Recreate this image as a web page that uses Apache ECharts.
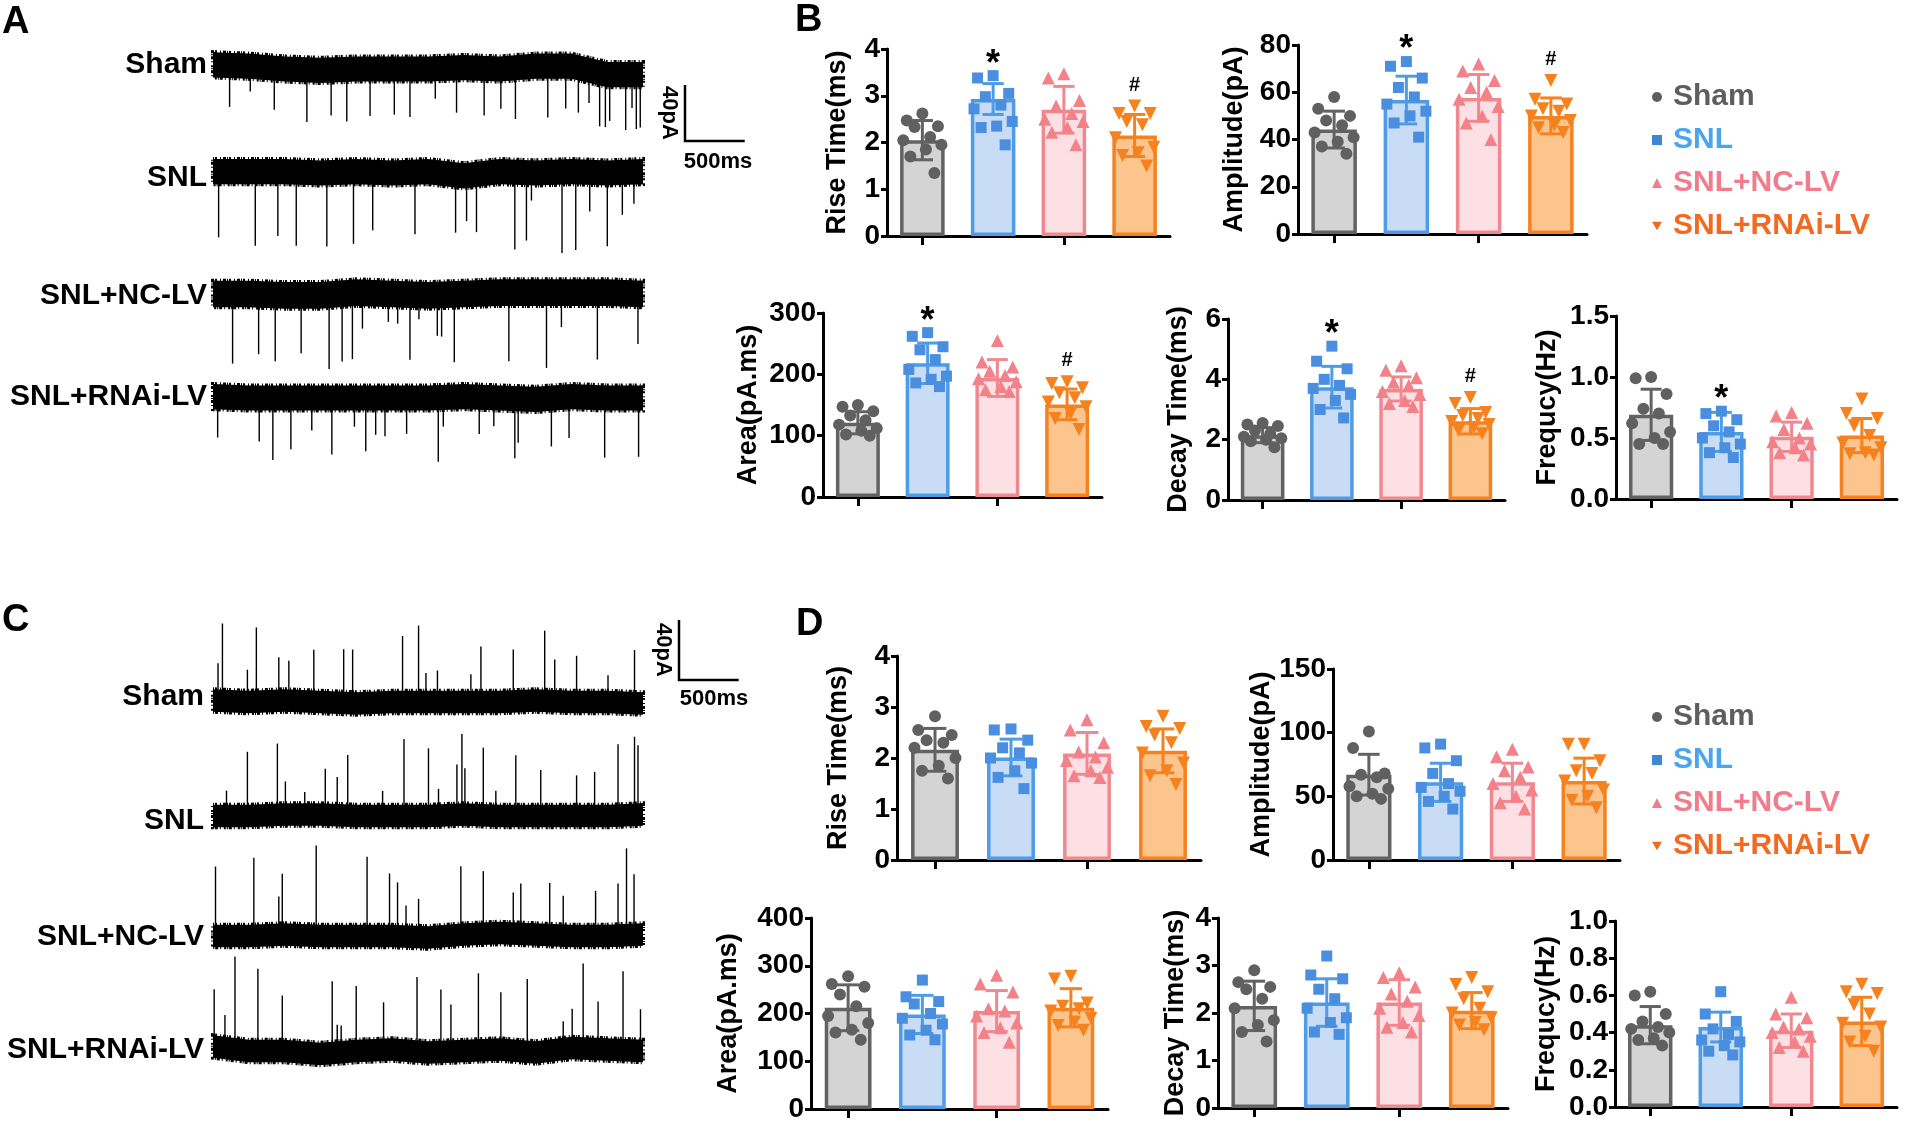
<!DOCTYPE html>
<html>
<head>
<meta charset="utf-8">
<title>sEPSC / sIPSC recordings</title>
<script src="https://cdn.jsdelivr.net/npm/echarts@6/dist/echarts.min.js"></script>
<style>
html, body { margin: 0; padding: 0; background: #fff; }
#main { width: 1905px; height: 1125px; }
</style>
</head>
<body>
<div id="main"></div>
<script>
// groups
var groups = ['Sham', 'SNL', 'SNL+NC-LV', 'SNL+RNAi-LV'];

// ---- panel B (row 1 and row 2) ----
var riseB_mean = [2.05, 2.93, 2.70, 2.15];
var riseB_sd = [0.42, 0.33, 0.50, 0.45];
var riseB_pts = [
    [2.62, 2.47, 2.35, 2.33, 2.12, 2.05, 1.95, 1.85, 1.70, 1.35],
    [3.43, 3.38, 3.05, 2.98, 2.80, 2.72, 2.45, 2.35, 2.32, 1.95],
    [3.47, 3.38, 2.90, 2.78, 2.62, 2.50, 2.45, 2.32, 2.22, 1.95],
    [2.78, 2.62, 2.62, 2.45, 2.38, 2.10, 1.90, 1.78, 1.72, 1.50]
];
var ampB_mean = [44.2, 56.7, 57.6, 50.0];
var ampB_sd = [7.8, 10.1, 9.9, 7.6];
var ampB_pts = [
    [58, 53, 50, 48, 46, 43, 41, 39, 37, 34],
    [73, 71, 66, 62, 58, 55, 52, 50, 47, 41],
    [72, 69, 65, 62, 60, 57, 54, 50, 47, 40],
    [65, 57, 55, 53, 52, 50, 48, 46, 45, 43]
];
var areaB_mean = [121, 218, 194, 151];
var areaB_sd = [18, 33, 30, 25];
var areaB_pts = [
    [150, 147, 140, 133, 125, 118, 112, 108, 102, 100],
    [268, 262, 245, 240, 224, 208, 197, 192, 186, 180],
    [255, 220, 212, 205, 198, 193, 188, 180, 175, 172],
    [188, 185, 178, 170, 162, 155, 147, 136, 128, 110]
];
var decayB_mean = [2.15, 3.74, 3.68, 2.61];
var decayB_sd = [0.25, 0.69, 0.40, 0.42];
var decayB_pts = [
    [2.55, 2.50, 2.45, 2.30, 2.20, 2.10, 2.05, 2.00, 1.95, 1.75],
    [5.10, 4.60, 4.35, 4.00, 3.80, 3.70, 3.50, 3.30, 3.00, 2.72],
    [4.45, 4.30, 4.05, 3.90, 3.80, 3.60, 3.50, 3.30, 3.20, 3.10],
    [3.40, 3.20, 2.90, 2.80, 2.70, 2.60, 2.50, 2.40, 2.30, 2.20]
];
var freqB_mean = [0.69, 0.55, 0.51, 0.52];
var freqB_sd = [0.21, 0.16, 0.12, 0.14];
var freqB_pts = [
    [1.00, 0.99, 0.86, 0.74, 0.70, 0.62, 0.55, 0.50, 0.45, 0.45],
    [0.72, 0.70, 0.65, 0.60, 0.55, 0.50, 0.45, 0.42, 0.38, 0.34],
    [0.71, 0.68, 0.62, 0.57, 0.50, 0.47, 0.45, 0.42, 0.38, 0.36],
    [0.82, 0.70, 0.66, 0.60, 0.52, 0.46, 0.42, 0.38, 0.37, 0.36]
];

// ---- panel D ----
var riseD_mean = [2.16, 2.01, 2.09, 2.14];
var riseD_sd = [0.42, 0.36, 0.41, 0.43];
var riseD_pts = [
    [2.82, 2.55, 2.45, 2.35, 2.30, 2.20, 2.00, 1.85, 1.75, 1.60],
    [2.57, 2.55, 2.35, 2.20, 2.10, 2.00, 1.90, 1.75, 1.62, 1.40],
    [2.75, 2.55, 2.30, 2.12, 2.02, 1.95, 1.82, 1.75, 1.65, 1.62],
    [2.82, 2.62, 2.58, 2.45, 2.30, 2.10, 1.90, 1.75, 1.65, 1.48]
];
var ampD_mean = [67, 61, 61, 62];
var ampD_sd = [16, 15, 15, 18];
var ampD_pts = [
    [101, 88, 68, 67, 65, 58, 56, 52, 50, 48],
    [91, 88, 78, 68, 60, 57, 54, 50, 46, 40],
    [87, 81, 73, 70, 65, 60, 55, 50, 45, 40],
    [91, 91, 78, 70, 68, 62, 55, 50, 47, 41]
];
var areaD_mean = [212, 198, 205, 212];
var areaD_sd = [48, 40, 43, 40];
var areaD_pts = [
    [278, 262, 256, 240, 215, 195, 180, 166, 160, 145],
    [270, 235, 225, 220, 200, 190, 178, 165, 155, 145],
    [280, 262, 245, 210, 205, 195, 180, 170, 160, 140],
    [278, 272, 222, 215, 210, 205, 190, 182, 175, 165]
];
var decayD_mean = [2.15, 2.22, 2.22, 2.05];
var decayD_sd = [0.52, 0.50, 0.48, 0.38];
var decayD_pts = [
    [2.90, 2.65, 2.55, 2.50, 2.30, 2.10, 1.85, 1.75, 1.60, 1.40],
    [3.20, 2.80, 2.72, 2.50, 2.30, 2.10, 1.90, 1.80, 1.60, 1.55],
    [2.85, 2.75, 2.55, 2.40, 2.25, 2.10, 1.95, 1.80, 1.70, 1.60],
    [2.75, 2.60, 2.45, 2.30, 2.10, 2.00, 1.90, 1.80, 1.75, 1.65]
];
var freqD_mean = [0.44, 0.43, 0.41, 0.46];
var freqD_sd = [0.10, 0.08, 0.09, 0.13];
var freqD_pts = [
    [0.62, 0.60, 0.50, 0.46, 0.43, 0.42, 0.40, 0.37, 0.36, 0.33],
    [0.62, 0.50, 0.46, 0.42, 0.39, 0.36, 0.35, 0.33, 0.30, 0.28],
    [0.59, 0.50, 0.48, 0.43, 0.42, 0.40, 0.38, 0.35, 0.32, 0.30],
    [0.66, 0.62, 0.61, 0.55, 0.50, 0.45, 0.43, 0.38, 0.35, 0.30]
];

// ---- traces: baseline drift (pA, every 300 ms) and events [ms, pA] ----
var traceSpan = 3600;
var driftA_sham = [3, 2, 0, -1, 0, 0, 0, 1, 0, 2, 2, -4, -4];
var driftA_snl = [1, 1, 1, 0, 1, 0, 1, -2, 1, 0, 1, 0, 1];
var driftA_nc = [0, 0, -1, -1, 1, 0, -1, 0, 1, 1, 1, 1, 0];
var driftA_rnai = [1, 0, 0, 0, 0, 0, 0, 1, 0, -1, 1, 0, 0];
var driftC_sham = [1, 0, 1, 0, -1, 0, 0, 0, 0, 1, 0, 0, -1];
var driftC_snl = [0, 0, 1, 1, 0, 0, 0, 1, 0, 0, 0, 0, 1];
var driftC_nc = [0, 0, 1, 0, 0, 0, -1, 1, 2, 1, 0, 0, 1];
var driftC_rnai = [3, 0, 0, -2, 0, 1, -1, 0, 1, -1, 2, 1, 0];

var eventsA_sham = [[139,-29.6],[312,-18],[513,-29.6],[786,-37.3],[989,-32.6],[1120,-37.3],[1315,-33.6],[1518,-32.6],[1649,-34.3],[1861,-21.4],[2039,-32],[2270,-33.6],[2410,-28.4],[2532,-36.6],[2803,-36.6],[2953,-30.3],[3059,-32],[3148,-23.3],[3237,-38.2],[3285,-37.8],[3321,-33.1],[3455,-39.6],[3508,-23.8],[3544,-38.9],[3577,-37.8]];
var eventsA_snl = [[47,-47],[354,-53],[543,-46],[697,-52.7],[953,-52.7],[1176,-51.5],[1337,-41.5],[1691,-44.3],[2031,-41.3],[2123,-32.6],[2206,-41.3],[2527,-55.2],[2624,-48.5],[2666,-19.8],[2922,-57.8],[3037,-55.9],[3154,-28],[3301,-52.4],[3427,-30.3],[3524,-22.8]];
var eventsA_nc = [[164,-49.7],[382,-42.7],[521,-47.3],[738,-41.4],[972,-53],[1081,-48.5],[1167,-47.3],[1251,-25.6],[1468,-20],[1546,-21],[1649,-46.4],[1724,-17.2],[1878,-29.1],[1914,-29.8],[2020,-48.5],[2477,-49],[2792,-53.8],[2917,-24.7],[3218,-47.8],[3558,-35.9]];
var eventsA_rnai = [[39,-29.1],[387,-31],[501,-44.3],[652,-36.6],[827,-23.3],[995,-40.3],[1184,-20.5],[1279,-38],[1362,-26.3],[1440,-27.3],[1621,-25.6],[1886,-45.9],[1928,-20.8],[2229,-26.3],[2351,-20.3],[2527,-42.7],[2555,-31.5],[2833,-34.5],[2981,-29.4],[3279,-42.7],[3563,-42]];
var eventsC_sham = [[42,25],[79,51.6],[288,21.5],[363,49.5],[551,29],[635,26.6],[844,34.7],[1094,35.9],[1169,35.9],[1587,44],[1721,50.9],[1783,19.4],[1879,21],[2159,18.5],[2243,37],[2514,34.7],[2777,46.8],[2861,27.8],[3044,30.8],[3307,17.8],[3529,35.4]];
var eventsC_snl = [[113,16.9],[288,42.8],[539,47.5],[606,22],[768,15],[940,30.6],[1040,25.5],[1128,40.5],[1420,16.7],[1599,51.4],[1804,45.1],[1888,17.8],[2042,33.6],[2084,53.7],[2109,30.8],[2263,45.1],[2368,16.7],[2535,40.5],[2744,30.6],[3044,27.1],[3195,29.4],[3391,47.5],[3529,52.1],[3558,46.3]];
var eventsC_nc = [[21,46.3],[342,52],[551,25.5],[580,40.5],[864,60.2],[1290,52.8],[1478,41.7],[1545,35.9],[1616,20.8],[1721,25.5],[2075,45.6],[2263,41.7],[2514,27.3],[2577,33.6],[2819,34.7],[2932,26.6],[3203,30.1],[3391,34.7],[3462,57.9],[3525,40.5]];
var eventsC_rnai = [[10,38.2],[100,22],[184,61.8],[376,54.9],[580,37],[998,47.9],[1040,18.5],[1073,17.8],[1199,43.3],[1428,31.7],[1708,49.8],[1908,41.7],[1992,31.3],[2222,51.4],[2410,38.2],[2631,48.6],[2932,18.5],[3007,26.2],[3099,56.7],[3224,31.7],[3433,52.6],[3579,27.8]];

// ---- styles ----
var font = 'Liberation Sans';
var fills = ['#d4d4d4', '#c8ddf5', '#fde0e3', '#fdc58e'];
var edges = ['#626262', '#4e9be6', '#f08890', '#f5821f'];
var markers = ['#606060', '#4a8fdf', '#f3818a', '#f5821f'];
var legendText = ['#5e5e5e', '#4aa5f0', '#f27c8c', '#f26a21'];
var legendIcon = ['#5e5e5e', '#3f86d3', '#f27c8c', '#f26a21'];
var shapes = ['circle', 'rect', 'triangle', 'path://M0,0L10,0L5,8.7Z'];
var symSizes = [12, 11, 13, 13];
var spread = [0, -0.22, 0.22, -0.11, 0.11, -0.27, 0.27, 0.05, -0.17, 0.17];

var barCharts = [
    {title: 'Rise Time(ms)', max: 4, step: 1, dec: 0, mean: riseB_mean, sd: riseB_sd, pts: riseB_pts, marks: [[1, '*'], [3, '#']]},
    {title: 'Amplitude(pA)', max: 80, step: 20, dec: 0, mean: ampB_mean, sd: ampB_sd, pts: ampB_pts, marks: [[1, '*'], [3, '#']]},
    {title: 'Area(pA.ms)', max: 300, step: 100, dec: 0, mean: areaB_mean, sd: areaB_sd, pts: areaB_pts, marks: [[1, '*'], [3, '#']]},
    {title: 'Decay Time(ms)', max: 6, step: 2, dec: 0, mean: decayB_mean, sd: decayB_sd, pts: decayB_pts, marks: [[1, '*'], [3, '#']]},
    {title: 'Frequcy(Hz)', max: 1.5, step: 0.5, dec: 1, mean: freqB_mean, sd: freqB_sd, pts: freqB_pts, marks: [[1, '*']]},
    {title: 'Rise Time(ms)', max: 4, step: 1, dec: 0, mean: riseD_mean, sd: riseD_sd, pts: riseD_pts, marks: []},
    {title: 'Amplitude(pA)', max: 150, step: 50, dec: 0, mean: ampD_mean, sd: ampD_sd, pts: ampD_pts, marks: []},
    {title: 'Area(pA.ms)', max: 400, step: 100, dec: 0, mean: areaD_mean, sd: areaD_sd, pts: areaD_pts, marks: []},
    {title: 'Decay Time(ms)', max: 4, step: 1, dec: 0, mean: decayD_mean, sd: decayD_sd, pts: decayD_pts, marks: []},
    {title: 'Frequcy(Hz)', max: 1.0, step: 0.2, dec: 1, mean: freqD_mean, sd: freqD_sd, pts: freqD_pts, marks: []}
];
// left, top, right, bottom, nameGap
var barBoxes = [
    [887, 49, 1170, 236, 36], [1298, 45, 1587, 234, 50], [823, 313, 1102, 497, 61],
    [1228, 319, 1505, 500, 36], [1616, 316, 1897, 499, 55],
    [897, 656, 1201, 860, 45], [1333, 669, 1620, 860, 57], [811, 918, 1108, 1109, 69],
    [1218, 918, 1508, 1108, 29], [1615, 921, 1897, 1107, 55]
];

var traces = [
    {drift: driftA_sham, ev: eventsA_sham, mid: 69, k: 1.4, lo: -60, hi: 20, hw: 9},
    {drift: driftA_snl, ev: eventsA_snl, mid: 173, k: 1.4, lo: -65, hi: 20, hw: 9},
    {drift: driftA_nc, ev: eventsA_nc, mid: 294, k: 1.4, lo: -65, hi: 20, hw: 9.5},
    {drift: driftA_rnai, ev: eventsA_rnai, mid: 398, k: 1.4, lo: -60, hi: 20, hw: 9},
    {drift: driftC_sham, ev: eventsC_sham, mid: 702, k: 1.5, lo: -20, hi: 70, hw: 7.5},
    {drift: driftC_snl, ev: eventsC_snl, mid: 816, k: 1.5, lo: -20, hi: 70, hw: 7.5},
    {drift: driftC_nc, ev: eventsC_nc, mid: 936, k: 1.5, lo: -20, hi: 70, hw: 7.5},
    {drift: driftC_rnai, ev: eventsC_rnai, mid: 1051, k: 1.5, lo: -20, hi: 70, hw: 7.5}
];

function driftAt(drift, t) {
    var step = traceSpan / (drift.length - 1);
    var i = Math.min(drift.length - 2, Math.floor(t / step));
    var f = (t - i * step) / step;
    return drift[i] + (drift[i + 1] - drift[i]) * f;
}

function jitter(vals, g) {
    var order = vals.map(function (v, k) { return k; }).sort(function (a, b) { return vals[b] - vals[a]; });
    return order.map(function (k, r) { return [g + spread[r % spread.length], vals[k]]; });
}

var chart = echarts.init(document.getElementById('main'));
var option = {
    animation: false,
    backgroundColor: '#fff',
    grid: [], xAxis: [], yAxis: [], series: [],
    legend: []
};

barCharts.forEach(function (p, i) {
    var b = barBoxes[i];
    var gi = option.grid.length;
    option.grid.push({left: b[0], top: b[1], width: b[2] - b[0], height: b[3] - b[1], containLabel: false, outerBoundsMode: 'none'});
    var catX = option.xAxis.length;
    option.xAxis.push({
        type: 'category', gridIndex: gi, data: groups,
        axisLine: {show: true, onZero: false, lineStyle: {color: '#000', width: 3}},
        axisTick: {show: true, alignWithLabel: true, length: 9, lineStyle: {color: '#000', width: 3}},
        axisLabel: {show: false}, splitLine: {show: false}
    });
    var valX = option.xAxis.length;
    option.xAxis.push({type: 'value', gridIndex: gi, min: -0.5, max: 3.5, show: false});
    var yi = option.yAxis.length;
    option.yAxis.push({
        type: 'value', gridIndex: gi, min: 0, max: p.max, interval: p.step,
        name: p.title, nameLocation: 'middle', nameGap: b[4],
        nameTextStyle: {fontFamily: font, fontWeight: 'bold', fontSize: 27, color: '#000'},
        axisLine: {show: true, onZero: false, lineStyle: {color: '#000', width: 3}},
        axisTick: {show: true, length: 6, lineStyle: {color: '#000', width: 3}},
        axisLabel: {fontFamily: font, fontWeight: 'bold', fontSize: 28, color: '#000', margin: 7,
            formatter: function (v) { return v.toFixed(p.dec); }},
        splitLine: {show: false}
    });

    option.series.push({
        type: 'bar', xAxisIndex: catX, yAxisIndex: yi, barWidth: '63%', z: 2, silent: true,
        data: p.mean.map(function (m, g) {
            return {value: m, itemStyle: {color: fills[g], borderColor: edges[g], borderWidth: 3.5}};
        })
    });

    option.series.push({
        type: 'custom', xAxisIndex: catX, yAxisIndex: yi, z: 3, silent: true,
        data: p.mean.map(function (m, g) { return [g, m, p.sd[g]]; }),
        renderItem: function (params, api) {
            var g = api.value(0), m = api.value(1), s = api.value(2);
            var hi = api.coord([g, m + s]), lo = api.coord([g, m - s]);
            var cap = api.size([1, 0])[0] * 0.3;
            var st = {stroke: edges[g], lineWidth: 3};
            return {type: 'group', children: [
                {type: 'line', shape: {x1: hi[0], y1: hi[1], x2: lo[0], y2: lo[1]}, style: st},
                {type: 'line', shape: {x1: hi[0] - cap / 2, y1: hi[1], x2: hi[0] + cap / 2, y2: hi[1]}, style: st},
                {type: 'line', shape: {x1: lo[0] - cap / 2, y1: lo[1], x2: lo[0] + cap / 2, y2: lo[1]}, style: st}
            ]};
        }
    });

    p.pts.forEach(function (vals, g) {
        option.series.push({
            type: 'scatter', name: groups[g], xAxisIndex: valX, yAxisIndex: yi, z: 4, silent: true,
            symbol: shapes[g], symbolSize: symSizes[g],
            itemStyle: {color: markers[g], opacity: 1},
            data: jitter(vals, g)
        });
    });

    if (p.marks.length) {
        option.series.push({
            type: 'custom', xAxisIndex: catX, yAxisIndex: yi, z: 5, silent: true,
            data: p.marks.map(function (mk) { return [mk[0], Math.max.apply(null, p.pts[mk[0]]), mk[1] === '*' ? 0 : 1]; }),
            renderItem: function (params, api) {
                var pt = api.coord([api.value(0), api.value(1)]);
                var star = api.value(2) === 0;
                return {type: 'text', x: pt[0], y: pt[1] - (star ? 11 : 21), style: {
                    text: star ? '*' : '#', fontFamily: font, fontWeight: 'bold',
                    fontSize: star ? 36 : 20, fill: '#000', align: 'center', verticalAlign: 'middle'}};
            }
        });
    }
});

traces.forEach(function (tr) {
    var gi = option.grid.length;
    option.grid.push({left: 213, width: 430, top: tr.mid - tr.hi * tr.k, height: (tr.hi - tr.lo) * tr.k, containLabel: false, outerBoundsMode: 'none'});
    var xi = option.xAxis.length;
    option.xAxis.push({type: 'value', gridIndex: gi, min: 0, max: traceSpan, show: false});
    var yi = option.yAxis.length;
    option.yAxis.push({type: 'value', gridIndex: gi, min: tr.lo, max: tr.hi, show: false});
    var step = traceSpan / (tr.drift.length - 1);
    var pts = tr.drift.map(function (d, k) { return [k * step, d]; });
    option.series.push({
        type: 'custom', xAxisIndex: xi, yAxisIndex: yi, silent: true, z: 2, clip: false,
        data: pts,
        renderItem: function (params, api) {
            if (params.dataIndex !== 0) return null;
            var up = [], dn = [];
            pts.forEach(function (q) {
                up.push(api.coord([q[0], q[1] + tr.hw]));
                dn.unshift(api.coord([q[0], q[1] - tr.hw]));
            });
            return {type: 'polygon', shape: {points: up.concat(dn)},
                style: {fill: '#000', stroke: '#000', lineWidth: 4, lineDash: [1, 1, 2, 3, 1, 2, 3, 1]}};
        }
    });
    option.series.push({
        type: 'custom', xAxisIndex: xi, yAxisIndex: yi, silent: true, z: 3, clip: false,
        data: tr.ev,
        renderItem: function (params, api) {
            var t = api.value(0), a = api.value(1);
            var base = driftAt(tr.drift, t);
            var p0 = api.coord([t, base]), p1 = api.coord([t, base + a]);
            return {type: 'line', shape: {x1: p0[0], y1: p0[1], x2: p1[0], y2: p1[1]},
                style: {stroke: '#000', lineWidth: 1.4}};
        }
    });
});

var legendData = groups.map(function (g, i) {
    return {name: g, icon: shapes[i], itemStyle: {color: legendIcon[i]}, textStyle: {color: legendText[i]}};
});
[77, 697].forEach(function (top) {
    option.legend.push({
        orient: 'vertical', left: 1647, top: top, itemGap: 13, itemWidth: 10, itemHeight: 10,
        selectedMode: false, data: legendData,
        textStyle: {fontFamily: font, fontWeight: 'bold', fontSize: 30, padding: [0, 0, 0, 6]}
    });
});

chart.setOption(option);

// texts and scale bars
var graphics = [];
function txt(x, y, s, size, align, rot) {
    graphics.push({type: 'text', x: x, y: y, rotation: rot || 0, silent: true, style: {
        text: s, fontFamily: font, fontWeight: 'bold', fontSize: size, fill: '#000',
        align: align || 'left', verticalAlign: 'middle'}});
}
txt(2, 23, 'A', 38); txt(795, 21, 'B', 38); txt(2, 621, 'C', 38); txt(796, 625, 'D', 38);
[65, 178, 296, 397].forEach(function (y, i) { txt(207, y, groups[i], 30, 'right'); });
[697, 821, 937, 1050].forEach(function (y, i) { txt(204, y, groups[i], 30, 'right'); });

function scaleBar(gi, cx, cy, yLabel, xLabel) {
    var p0 = chart.convertToPixel({gridIndex: gi}, [0, 0]);
    var p1 = chart.convertToPixel({gridIndex: gi}, [500, 40]);
    var w = p1[0] - p0[0], h = p0[1] - p1[1];
    graphics.push({type: 'polyline', silent: true, shape: {points: [[cx, cy - h], [cx, cy], [cx + w, cy]]},
        style: {stroke: '#000', lineWidth: 2.5, fill: null}});
    txt(yLabel[0], yLabel[1], '40pA', 22, 'center', -Math.PI / 2);
    txt(xLabel[0], xLabel[1], '500ms', 22, 'center');
}
scaleBar(13, 685, 141, [669, 113], [718, 162]);
scaleBar(17, 679, 680, [663, 650], [714, 699]);

chart.setOption({graphic: graphics});
</script>
</body>
</html>
